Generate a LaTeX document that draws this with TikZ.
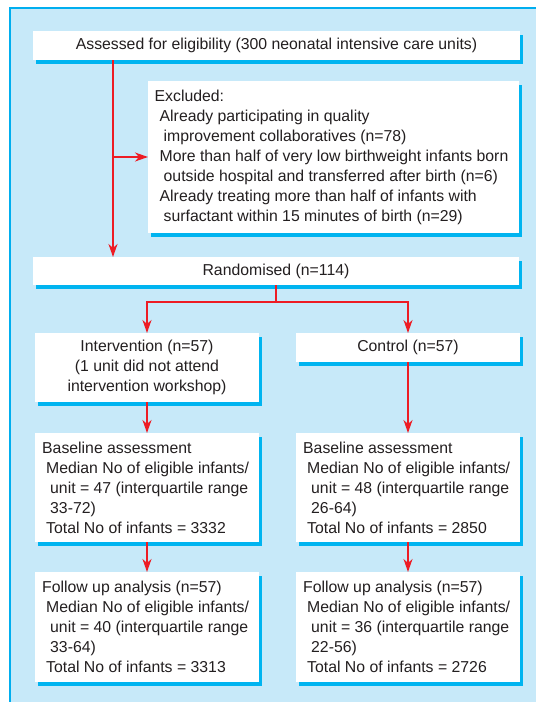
\documentclass[tikz,border=0pt]{standalone}
\usepackage{fontspec}
\setmainfont{Liberation Sans}
\usetikzlibrary{arrows.meta,shadows}
\definecolor{bgblue}{RGB}{199,233,249}
\definecolor{lineblue}{RGB}{0,174,239}
\definecolor{shblue}{RGB}{0,180,240}
\definecolor{arrred}{RGB}{237,28,36}
\definecolor{txt}{RGB}{35,31,32}
\begin{document}
\begin{tikzpicture}[x=1pt,y=1pt,
  box/.style={fill=white, draw=none, anchor=north west, inner sep=0pt, outer sep=0pt,
    drop shadow={shadow xshift=3pt, shadow yshift=-3.5pt, fill=shblue, opacity=1},
    text=txt, align=center, font=\fontsize{15.8}{20}\selectfont},
  ltext/.style={anchor=west, inner sep=0pt, align=left, text=txt, font=\fontsize{15.8}{20}\selectfont},
  arr/.style={draw=arrred, line width=1.6pt, -{Stealth[length=13pt,width=9pt,inset=4pt]}},
  link/.style={draw=arrred, line width=1.6pt}
]
\useasboundingbox (0,0) rectangle (536,-702);
\fill[bgblue] (10,-8) rectangle (536,-702);
\draw[lineblue, line width=1.5pt] (10,-702) -- (10,-8) -- (536,-8);

\node[box, minimum width=487pt, minimum height=29pt] (A) at (33,-31)
  {Assessed for eligibility (300 neonatal intensive care units)};
\node[box, minimum width=371pt, minimum height=152pt] (E) at (148,-81) {};
\node[ltext] (Et) at ([xshift=6.5pt]E.west)
  {Excluded:\\
   \hspace*{5pt}Already participating in quality\\
   \hspace*{9pt}improvement collaboratives (n=78)\\
   \hspace*{5pt}More than half of very low birthweight infants born\\
   \hspace*{9pt}outside hospital and transferred after birth (n=6)\\
   \hspace*{5pt}Already treating more than half of infants with\\
   \hspace*{9pt}surfactant within 15 minutes of birth (n=29)};
\node[box, minimum width=486pt, minimum height=28pt] (R) at (33,-257) {Randomised (n=114)};
\node[box, minimum width=224pt, minimum height=69pt] (I) at (35,-333)
  {Intervention (n=57)\\(1 unit did not attend\\intervention workshop)};
\node[box, minimum width=224pt, minimum height=29pt] (C) at (296,-333) {Control (n=57)};

\node[box, minimum width=224pt, minimum height=109pt] (BL) at (35,-433) {};
\node[ltext] (BLt) at ([xshift=7pt]BL.west)
  {Baseline assessment\\
   \hspace*{4pt}Median No of eligible infants/\\
   \hspace*{8pt}unit = 47 (interquartile range\\
   \hspace*{8pt}33-72)\\
   \hspace*{4pt}Total No of infants = 3332};
\node[box, minimum width=224pt, minimum height=109pt] (BR) at (296,-433) {};
\node[ltext] (BRt) at ([xshift=7pt]BR.west)
  {Baseline assessment\\
   \hspace*{4pt}Median No of eligible infants/\\
   \hspace*{8pt}unit = 48 (interquartile range\\
   \hspace*{8pt}26-64)\\
   \hspace*{4pt}Total No of infants = 2850};

\node[box, minimum width=224pt, minimum height=110pt] (FL) at (35,-572) {};
\node[ltext] (FLt) at ([xshift=7pt]FL.west)
  {Follow up analysis (n=57)\\
   \hspace*{4pt}Median No of eligible infants/\\
   \hspace*{8pt}unit = 40 (interquartile range\\
   \hspace*{8pt}33-64)\\
   \hspace*{4pt}Total No of infants = 3313};
\node[box, minimum width=224pt, minimum height=110pt] (FR) at (296,-572) {};
\node[ltext] (FRt) at ([xshift=7pt]FR.west)
  {Follow up analysis (n=57)\\
   \hspace*{4pt}Median No of eligible infants/\\
   \hspace*{8pt}unit = 36 (interquartile range\\
   \hspace*{8pt}22-56)\\
   \hspace*{4pt}Total No of infants = 2726};

\coordinate (m) at (113,0);
\draw[arr] (A.south -| m) -- (R.north -| m);
\draw[arr] (E.west -| m) -- (E.west);
\coordinate (split) at ([yshift=-17pt]R.south);
\draw[link] (R.south) -- (split);
\draw[arr] (split) -| (I.north);
\draw[arr] (split) -| (C.north);
\draw[arr] (I.south) -- (BL.north);
\draw[arr] (C.south) -- (BR.north);
\draw[arr] (BL.south) -- (FL.north);
\draw[arr] (BR.south) -- (FR.north);
\end{tikzpicture}
\end{document}
